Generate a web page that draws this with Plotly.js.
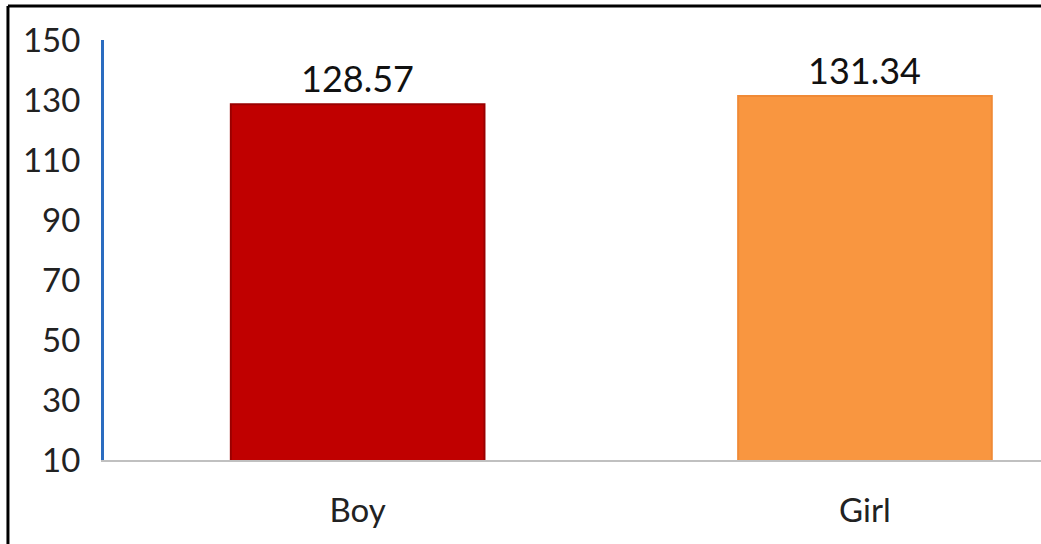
<!DOCTYPE html>
<html>
<head>
<meta charset="utf-8">
<script src="https://cdn.plot.ly/plotly-3.0.1.min.js"></script>
<style>
html,body{margin:0;padding:0;background:#fff;}
#chart{width:1041px;height:544px;}
</style>
</head>
<body>
<div id="chart"></div>
<script>
const categories = ["Boy", "Girl"];
const values = [128.57, 131.34];
const valueLabels = ["128.57", "131.34"];
const barColors = ["#C00000", "#F99640"];
const barEdgeColors = ["#9A0000", "#F08A36"];
const yTicks = [10, 30, 50, 70, 90, 110, 130, 150];

const trace = {
  type: "bar",
  x: categories,
  y: values,
  marker: { color: barColors, line: { color: barEdgeColors, width: 2 } },
  hoverinfo: "none",
  showlegend: false
};

const annotations = categories.map((c, i) => ({
  x: c, y: values[i], xref: "x", yref: "y",
  text: valueLabels[i], showarrow: false,
  yanchor: "bottom", yshift: 2,
  font: { family: "Lato, 'Open Sans', sans-serif", size: 36, color: "#111" }
}));

const layout = {
  width: 1041, height: 544,
  margin: { l: 104, r: 0, t: 40, b: 84 },
  paper_bgcolor: "#fff", plot_bgcolor: "#fff",
  bargap: 0.5,
  xaxis: {
    range: [-0.5, 1.347],
    showline: true, linecolor: "#C0C0C0", linewidth: 2,
    showgrid: false, zeroline: false, ticks: "",
    tickfont: { family: "Lato, 'Open Sans', sans-serif", size: 33, color: "#222" },
    ticklabelstandoff: 20
  },
  yaxis: {
    range: [10, 150],
    tickvals: yTicks, ticktext: yTicks.map(String),
    showline: true, linecolor: "#2A6CC0", linewidth: 3,
    showgrid: false, zeroline: false, ticks: "",
    tickfont: { family: "Lato, 'Open Sans', sans-serif", size: 33, color: "#222" },
    ticklabelstandoff: 14
  },
  annotations: annotations,
  shapes: [
    { type: "line", xref: "paper", yref: "paper", x0: -0.1025, x1: 1.01, y0: 1.081, y1: 1.081, line: { color: "#000", width: 3 } },
    { type: "line", xref: "paper", yref: "paper", x0: -0.1025, x1: -0.1025, y0: 1.081, y1: -0.21, line: { color: "#000", width: 3 } }
  ]
};

Plotly.newPlot("chart", [trace], layout, { displayModeBar: false, staticPlot: true });
</script>
</body>
</html>
